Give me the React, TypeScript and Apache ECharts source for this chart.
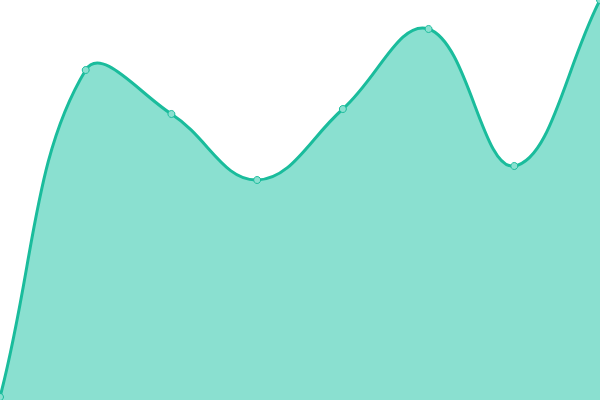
import { useEffect, useRef } from "react";
import * as echarts from "echarts";

const categories = ["1", "2", "3", "4", "5", "6", "7", "8"];
const values = [3, 330, 286, 220, 291, 371, 234, 400];

const LINE = "#1abc9c";
const FILL = "#8ae0d0";
const TENSION = 0.4;

// cardinal-style spline (no overshoot clamping), drawn through the axes' coords
function renderCurve(params: any, api: any) {
  if (params.dataIndex !== 0) return null;
  const cs = params.coordSys;
  const pts = values.map((v, i) => api.coord([i, v]));
  const n = pts.length;
  const clampX = (x: number) => Math.min(cs.x + cs.width, Math.max(cs.x, x));
  const clampY = (y: number) => Math.min(cs.y + cs.height, Math.max(cs.y, y));

  const cps = pts.map((cur, i) => {
    const prev = pts[i - 1] || cur;
    const next = pts[i + 1] || cur;
    const d01 = Math.hypot(cur[0] - prev[0], cur[1] - prev[1]);
    const d12 = Math.hypot(next[0] - cur[0], next[1] - cur[1]);
    const sum = d01 + d12 || 1;
    const fa = (TENSION * d01) / sum;
    const fb = (TENSION * d12) / sum;
    const vx = next[0] - prev[0];
    const vy = next[1] - prev[1];
    return {
      prev: [clampX(cur[0] - fa * vx), clampY(cur[1] - fa * vy)],
      next: [clampX(cur[0] + fb * vx), clampY(cur[1] + fb * vy)],
    };
  });

  let d = `M${pts[0][0]},${pts[0][1]}`;
  for (let i = 0; i < n - 1; i++) {
    const a = cps[i].next;
    const b = cps[i + 1].prev;
    const p = pts[i + 1];
    d += ` C${a[0]},${a[1]} ${b[0]},${b[1]} ${p[0]},${p[1]}`;
  }
  const br = api.coord([n - 1, 0]);
  const bl = api.coord([0, 0]);
  const area = `${d} L${br[0]},${br[1]} L${bl[0]},${bl[1]} Z`;

  return {
    type: "group",
    children: [
      { type: "path", shape: { pathData: area }, style: { fill: FILL, stroke: null } },
      { type: "path", shape: { pathData: d }, style: { fill: null, stroke: LINE, lineWidth: 3 } },
    ],
  };
}

export default function App() {
  const chartRef = useRef<HTMLDivElement>(null);

  useEffect(() => {
    if (!chartRef.current) return;
    const chart = echarts.init(chartRef.current, null, { renderer: "svg" });
    chart.setOption({
      animation: false,
      grid: { left: 0, right: 0, top: 0, bottom: 0 },
      xAxis: {
        type: "category",
        data: categories,
        boundaryGap: false,
        show: false,
      },
      yAxis: { type: "value", min: 0, max: 400, show: false },
      series: [
        {
          type: "custom",
          z: 1,
          data: values.map((v, i) => [i, v]),
          encode: { x: 0, y: 1 },
          renderItem: renderCurve,
          silent: true,
        },
        {
          type: "line",
          z: 3,
          data: values,
          symbol: "circle",
          symbolSize: 7,
          lineStyle: { opacity: 0 },
          itemStyle: { color: FILL, borderColor: LINE, borderWidth: 1 },
        },
      ],
    });
    return () => chart.dispose();
  }, []);

  return (
    <div
      ref={chartRef}
      style={{ position: "fixed", left: 0, top: 0, width: 600, height: 400 }}
    />
  );
}
